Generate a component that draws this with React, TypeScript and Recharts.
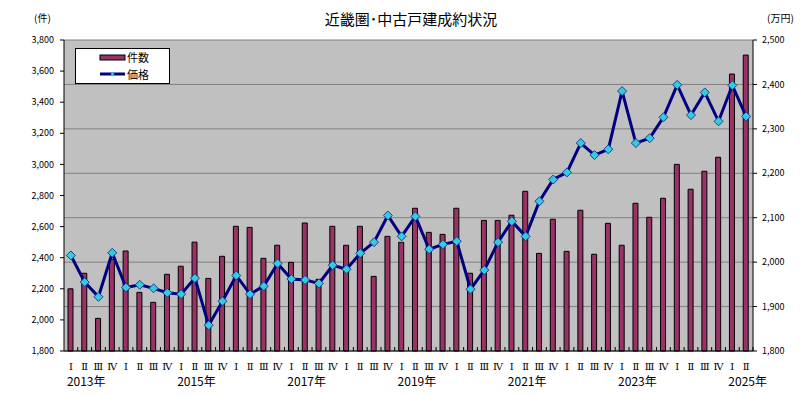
import { Bar, CartesianGrid, ComposedChart, Line, XAxis, YAxis } from "recharts";

const years = [2013, 2014, 2015, 2016, 2017, 2018, 2019, 2020, 2021, 2022, 2023, 2024, 2025];
const quarterNames = ["Ⅰ", "Ⅱ", "Ⅲ", "Ⅳ"];
const labeledYears = [2013, 2015, 2017, 2019, 2021, 2023, 2025];

// 件数 (left axis)
const counts = [
  2200, 2300, 2010, 2390, 2443, 2177, 2113, 2293,
  2345, 2500, 2267, 2409, 2602, 2595, 2396, 2480,
  2370, 2623, 2261, 2602, 2480, 2602, 2280, 2537,
  2499, 2718, 2563, 2550, 2718, 2300, 2640, 2640,
  2673, 2827, 2428, 2647, 2441, 2705, 2422, 2621,
  2480, 2750, 2660, 2782, 3000, 2840, 2956, 3046,
  3581, 3703,
];

// 価格 (right axis, 万円)
const prices = [
  2015, 1955, 1922, 2021, 1943, 1949, 1941, 1931,
  1928, 1964, 1858, 1912, 1970, 1928, 1946, 1997,
  1962, 1960, 1952, 1993, 1984, 2020, 2045, 2105,
  2058, 2103, 2029, 2040, 2047, 1939, 1982, 2045,
  2092, 2058, 2137, 2186, 2202, 2268, 2241, 2254,
  2385, 2268, 2279, 2326, 2399, 2331, 2382, 2317,
  2398, 2328,
];

const leftTicks = [1800, 2000, 2200, 2400, 2600, 2800, 3000, 3200, 3400, 3600, 3800];
const rightTicks = [1800, 1900, 2000, 2100, 2200, 2300, 2400, 2500];

const data = counts.map((c, i) => ({
  period: `${years[Math.floor(i / 4)]}-${(i % 4) + 1}`,
  quarter: quarterNames[i % 4],
  year: years[Math.floor(i / 4)],
  count: c,
  price: prices[i],
}));

const FONT = "'Noto Sans CJK JP', 'Noto Sans', sans-serif";
const fmt = (v: number) => v.toLocaleString("en-US");

function QuarterTick(props: any) {
  const { x, y, payload } = props;
  const d = data[payload.index];
  const half = 6.89;
  return (
    <g>
      <line x1={x + half} x2={x + half} y1={y - 4} y2={y} stroke="#000" strokeWidth={1} />
      <text x={x} y={y + 19} textAnchor="middle" fontSize={10} fontFamily="'DejaVu Serif', 'Liberation Serif', serif" fill="#000">
        {d.quarter}
      </text>
      {d.quarter === "Ⅰ" && labeledYears.includes(d.year) && (
        <text x={x - 4} y={y + 35} textAnchor="start" fontSize={12} fontFamily={FONT} fill="#000">
          {`${d.year}年`}
        </text>
      )}
    </g>
  );
}

function Diamond(props: any) {
  const { cx, cy } = props;
  if (cx == null || cy == null) return null;
  const r = 4.5;
  return (
    <path
      d={`M${cx},${cy - r}L${cx + r},${cy}L${cx},${cy + r}L${cx - r},${cy}Z`}
      fill="#33CCDD"
      stroke="#1F3C99"
      strokeWidth={1}
    />
  );
}

function LegendBox() {
  return (
    <div
      style={{
        position: "absolute",
        left: 75,
        top: 48,
        width: 93,
        height: 34,
        background: "#fff",
        border: "1px solid #000",
      }}
    >
      <svg width={93} height={34} style={{ position: "absolute", left: 0, top: 0 }}>
        <rect x={24} y={6} width={25} height={5} fill="#993366" stroke="#000" strokeWidth={1} />
        <text x={51} y={13} fontSize={11} fontFamily={FONT}>件数</text>
        <line x1={24} x2={49} y1={25} y2={25} stroke="#000080" strokeWidth={3} />
        <path d="M36.5,23L38.5,25L36.5,27L34.5,25Z" fill="#33CCDD" />
        <text x={51} y={30} fontSize={11} fontFamily={FONT}>価格</text>
      </svg>
    </div>
  );
}

export default function App() {
  return (
    <div style={{ position: "absolute", left: 0, top: 0, width: 808, height: 396, background: "#fff" }}>
      <div
        style={{
          position: "absolute",
          left: 0,
          width: 808,
          top: 8,
          textAlign: "center",
          fontFamily: FONT,
          fontSize: 15,
          paddingLeft: 14,
          boxSizing: "border-box",
        }}
      >
        近畿圏･中古戸建成約状況
      </div>
      <div style={{ position: "absolute", left: 34, top: 10, fontFamily: FONT, fontSize: 10 }}>(件)</div>
      <div style={{ position: "absolute", left: 767, top: 10, fontFamily: FONT, fontSize: 10 }}>(万円)</div>
      <ComposedChart
        width={808}
        height={396}
        data={data}
        margin={{ top: 40, right: 8, bottom: 5, left: 8 }}
        barCategoryGap={0}
      >
        <CartesianGrid
          yAxisId="right"
          vertical={false}
          fill="#C0C0C0"
          stroke="#808080"
          strokeWidth={1}
        />
        <XAxis
          dataKey="period"
          interval={0}
          height={40}
          tickLine={false}
          tickSize={0}
          tickMargin={0}
          axisLine={{ stroke: "#000" }}
          tick={<QuarterTick />}
        />
        <YAxis
          yAxisId="left"
          domain={[1800, 3800]}
          ticks={leftTicks}
          interval={0}
          width={56}
          tickSize={4}
          tickMargin={6}
          tickFormatter={fmt}
          axisLine={{ stroke: "#000" }}
          tickLine={{ stroke: "#000" }}
          tick={{ fontSize: 9, fill: "#000", fontFamily: FONT }}
        />
        <YAxis
          yAxisId="right"
          orientation="right"
          domain={[1800, 2500]}
          ticks={rightTicks}
          interval={0}
          width={47}
          tickSize={4}
          tickMargin={5}
          tickFormatter={fmt}
          axisLine={{ stroke: "#000" }}
          tickLine={{ stroke: "#000" }}
          tick={{ fontSize: 9, fill: "#000", fontFamily: FONT }}
        />
        <Bar
          yAxisId="left"
          dataKey="count"
          name="件数"
          barSize={5}
          fill="#993366"
          stroke="#000"
          strokeWidth={1}
          isAnimationActive={false}
        />
        <Line
          yAxisId="right"
          dataKey="price"
          name="価格"
          type="linear"
          stroke="#000080"
          strokeWidth={3}
          dot={<Diamond />}
          activeDot={false}
          isAnimationActive={false}
        />
      </ComposedChart>
      <LegendBox />
    </div>
  );
}
